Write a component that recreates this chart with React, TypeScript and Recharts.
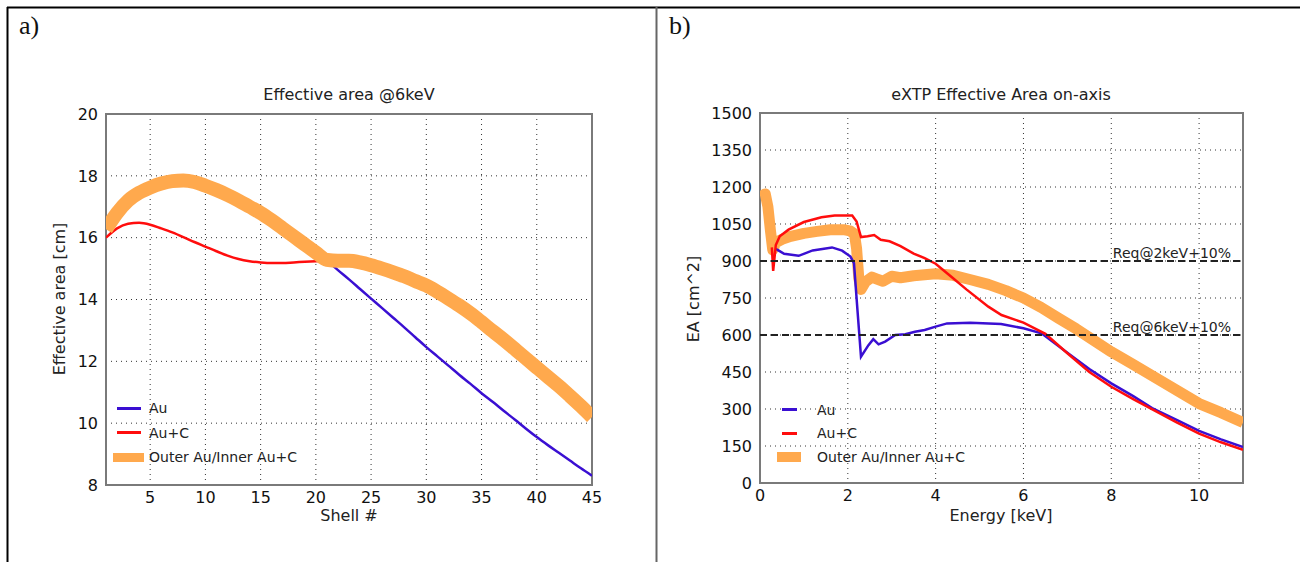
import React from "react";
import {
  LineChart,
  Line,
  XAxis,
  YAxis,
  CartesianGrid,
  ReferenceArea,
  ReferenceLine,
  Legend,
} from "recharts";

// ---- panel a) effective area @6keV per shell ----
const shellNumbers = [
  1, 2, 3, 4, 5, 6, 7, 8, 9, 10, 11, 12, 13, 14, 15, 16, 17, 18, 19, 20, 21, 22, 23,
  24, 25, 26, 27, 28, 29, 30, 31, 32, 33, 34, 35, 36, 37, 38, 39, 40, 41, 42, 43, 44, 45,
];
const shellMixedArea = [
  16.27, 16.8, 17.2, 17.45, 17.62, 17.75, 17.83, 17.85, 17.8, 17.68, 17.54, 17.38, 17.2,
  17.0, 16.8, 16.56, 16.3, 16.04, 15.78, 15.52, 15.28, 15.25, 15.25, 15.2, 15.11, 15.0,
  14.88, 14.75, 14.6, 14.45, 14.25, 14.03, 13.8, 13.55, 13.27, 12.98, 12.7, 12.4, 12.1,
  11.8, 11.5, 11.2, 10.88, 10.55, 10.2,
];
const auCShells = [1, 2, 3, 4, 5, 6, 7, 8, 9, 10, 11, 12, 13, 14, 15, 16, 17, 18, 19, 20, 21];
const auCShellArea = [
  16.0, 16.3, 16.45, 16.48, 16.42, 16.3, 16.17, 16.02, 15.86, 15.71, 15.56, 15.42, 15.31,
  15.24, 15.2, 15.18, 15.18, 15.2, 15.22, 15.24, 15.26,
];
const auShells = [
  21, 22, 23, 24, 25, 26, 27, 28, 29, 30, 31, 32, 33, 34, 35, 36, 37, 38, 39, 40, 41, 42,
  43, 44, 45,
];
const auShellArea = [
  15.26, 14.95, 14.65, 14.34, 14.03, 13.72, 13.41, 13.1, 12.78, 12.46, 12.16, 11.86, 11.56,
  11.27, 10.97, 10.69, 10.4, 10.12, 9.83, 9.55, 9.29, 9.04, 8.79, 8.54, 8.3,
];
const shellTicks = [5, 10, 15, 20, 25, 30, 35, 40, 45];
const shellAreaTicks = [8, 10, 12, 14, 16, 18, 20];

// ---- panel b) eXTP effective area vs energy ----
const mixedEnergy = [
  0.02, 0.12, 0.18, 0.24, 0.29, 0.36, 0.5, 0.7, 1.0, 1.3, 1.6, 1.9, 2.05, 2.15, 2.2, 2.25,
  2.3, 2.4, 2.55, 2.65, 2.8, 3.0, 3.2, 3.5, 4.0, 4.4, 4.8, 5.2, 5.6, 6.0, 6.4, 6.8, 7.2,
  7.6, 8.0, 8.5, 9.0, 9.5, 10.0, 10.5, 11.0,
];
const mixedEA = [
  1160, 1172, 1120, 1020, 945, 975, 988, 1000, 1012, 1020, 1027, 1027, 1022, 1010, 950,
  830, 785, 815, 835, 828, 818, 838, 832, 840, 848, 842, 824, 805, 780, 750, 712, 668,
  625, 578, 532, 480, 428, 375, 322, 285, 245,
];
const auCEnergy = [
  0.27, 0.3, 0.36, 0.45, 0.65, 1.0, 1.4, 1.7, 2.1, 2.2, 2.3, 2.45, 2.6, 2.75, 2.95, 3.2,
  3.5, 3.75, 4.0, 4.35, 4.7, 5.2, 5.5, 6.0, 6.5, 7.0, 7.5, 8.0, 8.5, 9.0, 9.5, 10.0, 10.5,
  11.0,
];
const auCEA = [
  955, 860, 965, 1000, 1027, 1058, 1077, 1084, 1084, 1060, 997, 1000, 1005, 986, 980, 960,
  930, 912, 889, 837, 785, 715, 681, 650, 605, 526, 450, 390, 340, 292, 245, 200, 165, 135,
];
const auEnergy = [
  0.36, 0.4, 0.55, 0.88, 1.2, 1.64, 1.87, 2.06, 2.14, 2.22, 2.3, 2.47, 2.58, 2.7, 2.85,
  3.08, 3.31, 3.53, 3.75, 4.0, 4.26, 4.79, 5.49, 6.0, 6.41, 7.0, 7.5, 8.0, 8.5, 8.93, 9.5,
  10.0, 10.5, 11.0,
];
const auEA = [
  950, 945, 929, 921, 943, 955, 942, 918, 891, 700, 512, 559, 583, 562, 573, 600, 603, 613,
  620, 634, 647, 650, 645, 627, 607, 528, 462, 404, 352, 304, 255, 211, 177, 146,
];
const energyTicks = [0, 2, 4, 6, 8, 10];
const eaTicks = [0, 150, 300, 450, 600, 750, 900, 1050, 1200, 1350, 1500];
const requirements = [
  { value: 900, label: "Req@2keV+10%" },
  { value: 600, label: "Req@6keV+10%" },
];

const seriesNames = ["Au", "Au+C", "Outer Au/Inner Au+C"];

const BLUE = "#3a0fd2";
const RED = "#ff0d0d";
const ORANGE = "#ffa94d";
const FONT = "'DejaVu Sans', sans-serif";

const toPoints = (xs: number[], ys: number[]) => xs.map((x, i) => ({ x, v: ys[i] }));

const tickStyle = { fill: "#111", fontSize: 16 };

function KeyContent({ handleW, lineW, gap, rowH, patchH }: any) {
  const colors = [BLUE, RED, ORANGE];
  return (
    <div style={{ fontFamily: FONT, fontSize: 14, color: "#222" }}>
      {seriesNames.map((name, i) => (
        <div key={name} style={{ height: rowH, display: "flex", alignItems: "center" }}>
          <div
            style={{
              width: handleW,
              display: "flex",
              justifyContent: "center",
              alignItems: "center",
            }}
          >
            {i < 2 ? (
              <div style={{ width: lineW, height: 3, background: colors[i] }} />
            ) : (
              <div style={{ width: handleW, height: patchH, background: colors[i] }} />
            )}
          </div>
          <span style={{ marginLeft: gap, whiteSpace: "nowrap" }}>{name}</span>
        </div>
      ))}
    </div>
  );
}

const reqLabel = (text: string) => (props: any) => {
  const vb = props.viewBox || {};
  return (
    <text
      x={vb.x + vb.width - 12}
      y={vb.y - 3}
      textAnchor="end"
      fill="#222"
      fontSize={14}
      fontFamily={FONT}
    >
      {text}
    </text>
  );
};

function ShellChart() {
  return (
    <LineChart width={656} height={562} margin={{ top: 114, right: 64, bottom: 37, left: 56 }}>
      <CartesianGrid stroke="#333" strokeDasharray="1 4" />
      <XAxis
        dataKey="x"
        type="number"
        domain={[1, 45]}
        ticks={shellTicks}
        allowDataOverflow
        height={40}
        tickLine={false}
        axisLine={false}
        tickMargin={1}
        tick={tickStyle}
      />
      <YAxis
        type="number"
        domain={[8, 20]}
        ticks={shellAreaTicks}
        allowDataOverflow
        width={50}
        tickLine={false}
        axisLine={false}
        tick={tickStyle}
      />
      <ReferenceArea x1={1} x2={45} y1={8} y2={20} fill="none" stroke="#7a7a7a" strokeWidth={2} />
      <Line
        data={toPoints(auShells, auShellArea)}
        dataKey="v"
        name="Au"
        stroke={BLUE}
        strokeWidth={2.5}
        dot={false}
        type="monotone"
        isAnimationActive={false}
      />
      <Line
        data={toPoints(auCShells, auCShellArea)}
        dataKey="v"
        name="Au+C"
        stroke={RED}
        strokeWidth={2.5}
        dot={false}
        type="monotone"
        isAnimationActive={false}
      />
      <Line
        data={toPoints(shellNumbers, shellMixedArea)}
        dataKey="v"
        name="Outer Au/Inner Au+C"
        stroke={ORANGE}
        strokeWidth={14}
        dot={false}
        type="monotone"
        isAnimationActive={false}
      />
      <Legend
        layout="vertical"
        align="center"
        verticalAlign="middle"
        wrapperStyle={{ left: 113, top: 396, width: "auto" }}
        content={() => <KeyContent handleW={31} lineW={24} gap={5} rowH={24.5} patchH={9} />}
      />
    </LineChart>
  );
}

function EnergyChart() {
  return (
    <LineChart width={644} height={562} margin={{ top: 113, right: 57, bottom: 39, left: 54 }}>
      <CartesianGrid stroke="#333" strokeDasharray="1 4" />
      <XAxis
        dataKey="x"
        type="number"
        domain={[0, 11]}
        ticks={energyTicks}
        allowDataOverflow
        height={40}
        tickLine={false}
        axisLine={false}
        tickMargin={1}
        tick={tickStyle}
      />
      <YAxis
        type="number"
        domain={[0, 1500]}
        ticks={eaTicks}
        allowDataOverflow
        width={50}
        tickLine={false}
        axisLine={false}
        tick={tickStyle}
      />
      <ReferenceArea x1={0} x2={11} y1={0} y2={1500} fill="none" stroke="#7a7a7a" strokeWidth={2} />
      <Line
        data={toPoints(mixedEnergy, mixedEA)}
        dataKey="v"
        name="Outer Au/Inner Au+C"
        stroke={ORANGE}
        strokeWidth={11}
        strokeLinejoin="round"
        dot={false}
        type="linear"
        isAnimationActive={false}
      />
      <Line
        data={toPoints(auEnergy, auEA)}
        dataKey="v"
        name="Au"
        stroke={BLUE}
        strokeWidth={2.5}
        dot={false}
        type="linear"
        isAnimationActive={false}
      />
      <Line
        data={toPoints(auCEnergy, auCEA)}
        dataKey="v"
        name="Au+C"
        stroke={RED}
        strokeWidth={2.5}
        dot={false}
        type="linear"
        isAnimationActive={false}
      />
      {requirements.map((r) => (
        <ReferenceLine
          key={r.label}
          y={r.value}
          stroke="#222"
          strokeWidth={2}
          strokeDasharray="7 4"
          label={reqLabel(r.label)}
        />
      ))}
      <Legend
        layout="vertical"
        align="center"
        verticalAlign="middle"
        wrapperStyle={{ left: 121, top: 398, width: "auto" }}
        content={() => <KeyContent handleW={24} lineW={15} gap={16} rowH={23.5} patchH={10} />}
      />
    </LineChart>
  );
}

export default function App() {
  return (
    <div
      style={{
        position: "absolute",
        left: 0,
        top: 0,
        width: 1300,
        height: 562,
        background: "#fff",
        fontFamily: FONT,
        overflow: "hidden",
      }}
    >
      <div style={{ position: "absolute", left: 0, top: 0 }}>
        <ShellChart />
      </div>
      <div style={{ position: "absolute", left: 656, top: 0 }}>
        <EnergyChart />
      </div>
      <svg
        width={1300}
        height={562}
        style={{ position: "absolute", left: 0, top: 0, pointerEvents: "none" }}
      >
        <line x1={7} y1={7.5} x2={1300} y2={7.5} stroke="#000" strokeWidth={2} />
        <line x1={7.5} y1={7} x2={7.5} y2={562} stroke="#000" strokeWidth={2} />
        <line x1={656.5} y1={7} x2={656.5} y2={562} stroke="#666" strokeWidth={2} />
        <g fontFamily="'Liberation Serif', 'Times New Roman', serif" fontSize={26} fill="#111">
          <text x={19} y={34}>a)</text>
          <text x={669} y={34}>b)</text>
        </g>
        <g fontSize={16} fill="#222" textAnchor="middle">
          <text x={349} y={100}>Effective area @6keV</text>
          <text x={1001} y={100}>eXTP Effective Area on-axis</text>
          <text x={349} y={521}>Shell #</text>
          <text x={1001} y={521}>Energy [keV]</text>
          <text transform="translate(65 299) rotate(-90)">Effective area [cm]</text>
          <text transform="translate(699 299) rotate(-90)">EA [cm^2]</text>
        </g>
      </svg>
    </div>
  );
}
